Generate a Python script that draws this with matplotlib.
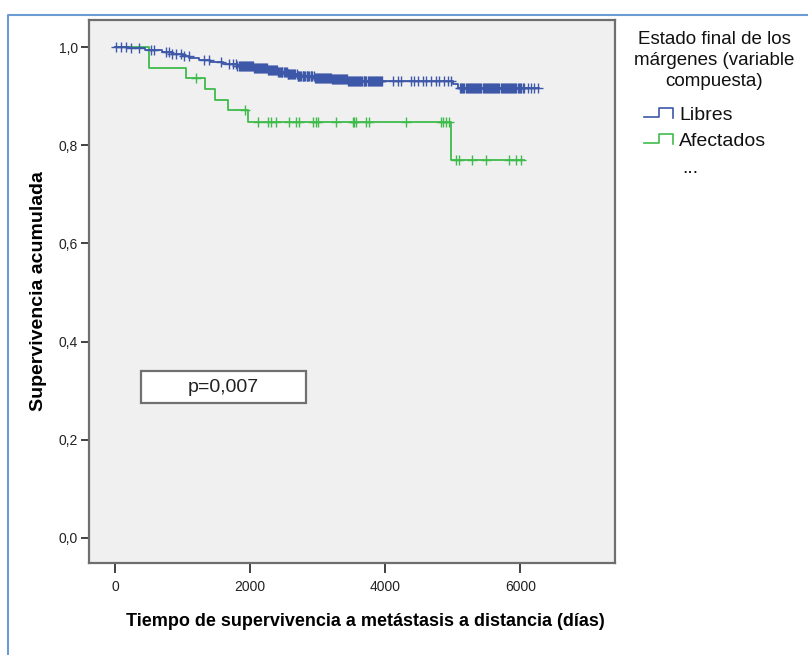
import numpy as np
import matplotlib.pyplot as plt
from matplotlib.patches import Rectangle
from matplotlib.lines import Line2D

# ------------------------------------------------------------------ #
# Data                               #
# ------------------------------------------------------------------ #
libres_t = [0, 200, 450, 700, 850, 1000, 1100, 1250, 1400, 1600, 1800, 2050,
            2250, 2400, 2550, 2700, 2950, 3200, 3450, 5000, 5080, 6280]
libres_s = [1.0, 0.997, 0.994, 0.990, 0.986, 0.982, 0.978, 0.974, 0.969,
            0.965, 0.961, 0.957, 0.953, 0.949, 0.945, 0.941, 0.937, 0.934,
            0.931, 0.924, 0.916, 0.916]
libres_cens = [10, 84, 158, 232, 356, 529, 578, 750, 800, 850, 900, 973, 1020,
               1096, 1318, 1393, 1566, 1689, 1740, 1788, 1830, 1862, 1895, 1921,
               1948, 1983, 2012, 2037, 2071, 2098, 2126, 2159, 2188, 2214, 2247,
               2273, 2305, 2331, 2362, 2394, 2420, 2452, 2478, 2511, 2540, 2566,
               2597, 2623, 2655, 2688, 2714, 2743, 2776, 2802, 2835, 2861, 2894,
               2921, 2956, 2983, 3012, 3048, 3075, 3104, 3139, 3166, 3198, 3227,
               3259, 3288, 3316, 3347, 3378, 3406, 3437, 3466, 3497, 3528, 3556,
               3587, 3618, 3647, 3678, 3706, 3737, 3768, 3797, 3828, 3859, 3887,
               3918, 3950, 4108, 4182, 4232, 4379, 4429, 4478, 4552, 4602, 4676,
               4750, 4800, 4874, 4923, 4973, 5110, 5141, 5172, 5204, 5236, 5265,
               5297, 5330, 5361, 5392, 5424, 5455, 5487, 5518, 5549, 5580, 5612,
               5643, 5675, 5706, 5738, 5769, 5800, 5832, 5864, 5895, 5926, 5958,
               5990, 6059, 6108, 6158, 6207, 6257]
libres_cens_extra = [1805, 1847, 1878, 1908, 1935, 1966, 1997, 2025, 2055, 2085,
                     2112, 2143, 2174, 2201, 2231, 2260, 2289, 2318, 2347, 2378,
                     2407, 2436, 2465, 2494, 2525, 2553, 2582, 2610, 2640, 2671,
                     2701, 2729, 2759, 2789, 2818, 2848, 2878, 2907, 2938, 2970,
                     2998, 3030, 3061, 3090, 3121, 3152, 3182, 3212, 3243, 3273,
                     3302, 3332, 3362, 3392, 3421, 3452, 3481, 3512, 3542, 3571,
                     3602, 3632, 3662, 3692, 3721, 3752, 3782, 3812, 3843, 3873,
                     3902, 3934, 5125, 5156, 5188, 5220, 5250, 5281, 5313, 5345,
                     5376, 5408, 5440, 5471, 5502, 5533, 5565, 5596, 5627, 5659,
                     5690, 5722, 5753, 5784, 5816, 5848, 5879, 5910, 5942, 5974,
                     6010, 6034]

afect_t = [0, 504, 1047, 1328, 1477, 1674, 1975, 4973, 6060]
afect_s = [1.0, 0.958, 0.936, 0.914, 0.893, 0.872, 0.848, 0.770, 0.770]
afect_cens = [1195, 1921, 2109, 2257, 2306, 2380, 2578, 2677, 2726, 2923, 2973,
              2997, 3269, 3516, 3541, 3565, 3714, 3763, 4306, 4825, 4859, 4899,
              4938, 5047, 5096, 5284, 5491, 5837, 5936, 6010]

legend_title = "Estado final de los\nmárgenes (variable\ncompuesta)"
group_labels = ["Libres", "Afectados"]
p_text = "p=0,007"

BLUE = "#3d57a9"
GREEN = "#3fbb4b"
SANS = ["Liberation Sans", "DejaVu Sans"]
plt.rcParams["font.family"] = SANS

W, H = 808, 655


def surv_at(times, surv, t):
    idx = np.searchsorted(times, t, side="right") - 1
    return np.asarray(surv)[idx]


fig = plt.figure(figsize=(W / 100, H / 100), dpi=100)
ax = fig.add_axes([89 / W, (H - 563) / H, 526 / W, 543 / H])
ax.set_facecolor("#f0f0f0")

blue_cens = sorted(libres_cens + libres_cens_extra)
for times, surv, cens, col in [
    (afect_t, afect_s, afect_cens, GREEN),
    (libres_t, libres_s, blue_cens, BLUE),
]:
    ax.step(times, surv, where="post", color=col, linewidth=1.3)
    ax.plot(cens, surv_at(times, surv, cens), linestyle="none", marker="+",
            markersize=6.5, markeredgewidth=1.0, color=col)

ax.set_xlim(-385, 7400)
ax.set_ylim(-0.051, 1.055)
ax.set_xticks([0, 2000, 4000, 6000])
yt = np.arange(0, 1.01, 0.2)
ax.set_yticks(yt)
ax.set_yticklabels([f"{v:.1f}".replace(".", ",") for v in yt])
ax.tick_params(direction="out", length=6, width=1.3, color="#333333",
               labelsize=10, pad=2, labelcolor="#222222")
ax.tick_params(axis="x", length=7, pad=5)
for sp in ax.spines.values():
    sp.set_color("#6e6e6e")
    sp.set_linewidth(1.6)

ax.set_xlabel("Tiempo de supervivencia a metástasis a distancia (días)",
              fontsize=13, fontweight="bold")
ax.xaxis.set_label_coords(0.525, -50 / 543)
ax.set_ylabel("Supervivencia acumulada", fontsize=14, fontweight="bold",
              labelpad=8)

# p-value box
fig.add_artist(Rectangle((141 / W, 1 - 403 / H), 165 / W, 32 / H,
                         facecolor="white", edgecolor="#707070",
                         linewidth=1.6, transform=fig.transFigure))
fig.text(223 / W, 1 - 388 / H, p_text, ha="center", va="center",
         fontsize=14, color="#222222")

# legend on the right
fig.text(714 / W, 1 - 31 / H, legend_title, ha="center", va="top",
         fontsize=13.5, color="#111111", linespacing=1.3)
for i, (lab, col) in enumerate(zip(group_labels, [BLUE, GREEN])):
    yc = 116 + 26 * i
    xs = np.array([644, 659, 659, 673, 673]) / W
    ys = 1 - np.array([yc + 1, yc + 1, yc - 8, yc - 8, yc + 2]) / H
    fig.add_artist(Line2D(xs, ys, color=col, linewidth=1.2))
    fig.text(679 / W, 1 - yc / H, lab, ha="left", va="center",
             fontsize=14, color="#111111")
fig.text(690 / W, 1 - 168 / H, "...", ha="center", va="center",
         fontsize=14, color="#111111")

# outer blue frame
fig.add_artist(Line2D([8 / W, 8 / W, 1.0], [0.0, 1 - 15 / H, 1 - 15 / H],
                      color="#6a9bd3", linewidth=1.5))

fig.savefig("out.png", dpi=100)
